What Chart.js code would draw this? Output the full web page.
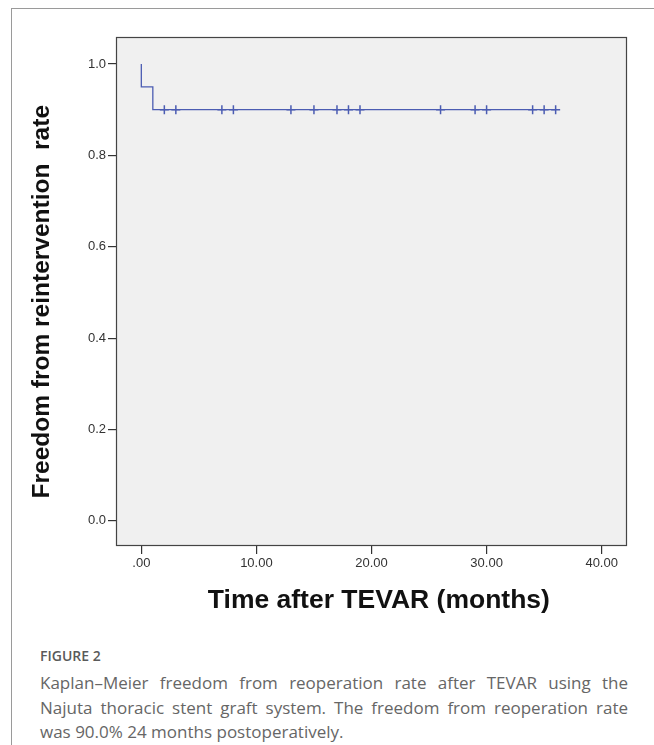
<!DOCTYPE html>
<html>
<head>
<meta charset="utf-8">
<script src="https://cdn.jsdelivr.net/npm/chart.js@4"></script>
<style>
  html, body { margin: 0; padding: 0; background: #fff; }
  #page { position: relative; width: 654px; height: 745px; overflow: hidden; }
  #frame { position: absolute; left: 11px; top: 8px; right: -5px; bottom: -5px;
           border-left: 1px solid #9a9a9a; border-top: 1px solid #9a9a9a; }
  #chartBox { position: absolute; left: 0; top: 0; width: 654px; height: 630px; }
  #caption { position: absolute; left: 40px; top: 646px; width: 588px;
             font-family: "Open Sans", sans-serif; color: #666; }
  #caption .fig { font-size: 14px; font-weight: 600; color: #5a5a5a; margin-bottom: 6px; }
  #caption .ln { font-size: 17px; line-height: 24.5px; text-align: justify; text-align-last: justify; white-space: nowrap; }
  #caption .ln.last { text-align-last: left; }
</style>
</head>
<body>
<div id="page">
  <div id="frame"></div>
  <div id="chartBox"><canvas id="km" width="654" height="630"></canvas></div>
  <div id="caption">
    <div class="fig">FIGURE 2</div>
    <div class="ln">Kaplan–Meier freedom from reoperation rate after TEVAR using the</div>
    <div class="ln">Najuta thoracic stent graft system. The freedom from reoperation rate</div>
    <div class="ln last">was 90.0% 24 months postoperatively.</div>
  </div>
</div>
<script>
// survival curve (months, proportion)
var stepTimes = [0, 0, 1, 36];
var stepSurv = [1.0, 0.95, 0.90, 0.90];

// censored patients
var censorTimes = [2, 3, 7, 8, 13, 15, 17, 18, 19, 26, 29, 30, 34, 35, 36];
var censorSurv = [0.9, 0.9, 0.9, 0.9, 0.9, 0.9, 0.9, 0.9, 0.9, 0.9, 0.9, 0.9, 0.9, 0.9, 0.9];

var xTicks = [0, 10, 20, 30, 40];
var yTicks = [0.0, 0.2, 0.4, 0.6, 0.8, 1.0];

var lineColor = '#4b5cb2';

var plotBg = {
    id: 'plotBg',
    beforeDraw: function (chart) {
        var a = chart.chartArea, c = chart.ctx;
        c.save();
        c.fillStyle = '#f0f0f0';
        c.fillRect(a.left, a.top, a.right - a.left, a.bottom - a.top);
        c.restore();
    },
    afterDraw: function (chart) {
        var a = chart.chartArea, c = chart.ctx;
        c.save();
        c.strokeStyle = '#444';
        c.lineWidth = 1.2;
        c.strokeRect(a.left + 0.5, a.top + 0.5, a.right - a.left - 1, a.bottom - a.top - 1);
        c.restore();
    }
};

var ctx = document.getElementById('km');
new Chart(ctx, {
    type: 'line',
    data: {
        datasets: [{
            data: stepTimes.map(function (t, i) { return {x: t, y: stepSurv[i]}; }),
            stepped: true,
            borderColor: lineColor,
            borderWidth: 1.3,
            pointRadius: 0,
            fill: false
        }, {
            type: 'scatter',
            data: censorTimes.map(function (t, i) { return {x: t, y: censorSurv[i]}; }),
            pointStyle: 'cross',
            pointRadius: 4.5,
            borderColor: lineColor,
            borderWidth: 1.5,
            backgroundColor: lineColor
        }]
    },
    plugins: [plotBg],
    options: {
        responsive: false,
        animation: false,
        devicePixelRatio: 1,
        layout: {padding: {top: 37, right: 27, left: 0, bottom: 0}},
        plugins: {legend: {display: false}, tooltip: {enabled: false}},
        scales: {
            x: {
                type: 'linear',
                min: -2.2,
                max: 42.2,
                afterBuildTicks: function (s) { s.ticks = xTicks.map(function (v) { return {value: v}; }); },
                afterFit: function (s) { s.height = 84; },
                grid: {display: true, drawOnChartArea: false, drawTicks: true, tickLength: 8, color: '#333', lineWidth: 1.2},
                border: {display: false},
                ticks: {
                    color: '#333',
                    font: {family: 'Arial, "Liberation Sans"', size: 13},
                    padding: 2,
                    maxRotation: 0,
                    callback: function (v) { return v === 0 ? '.00' : v.toFixed(2); }
                },
                title: {
                    display: true,
                    text: '  Time after TEVAR (months)',
                    color: '#111',
                    font: {family: 'Arial, "Liberation Sans"', size: 26.5, weight: 'bold'},
                    padding: {top: 0, bottom: 13}
                }
            },
            y: {
                type: 'linear',
                min: -0.055,
                max: 1.059,
                afterBuildTicks: function (s) { s.ticks = yTicks.map(function (v) { return {value: v}; }); },
                afterFit: function (s) { s.width = 116; },
                grid: {display: true, drawOnChartArea: false, drawTicks: true, tickLength: 8, color: '#333', lineWidth: 1.2},
                border: {display: false},
                ticks: {
                    color: '#333',
                    font: {family: 'Arial, "Liberation Sans"', size: 13},
                    padding: 2,
                    callback: function (v) { return v.toFixed(1); }
                },
                title: {
                    display: true,
                    text: 'Freedom from reintervention  rate   ',
                    color: '#111',
                    font: {family: 'Arial, "Liberation Sans"', size: 24.5, weight: 'bold'},
                    padding: {top: 28, bottom: 0}
                }
            }
        }
    }
});
</script>
</body>
</html>
